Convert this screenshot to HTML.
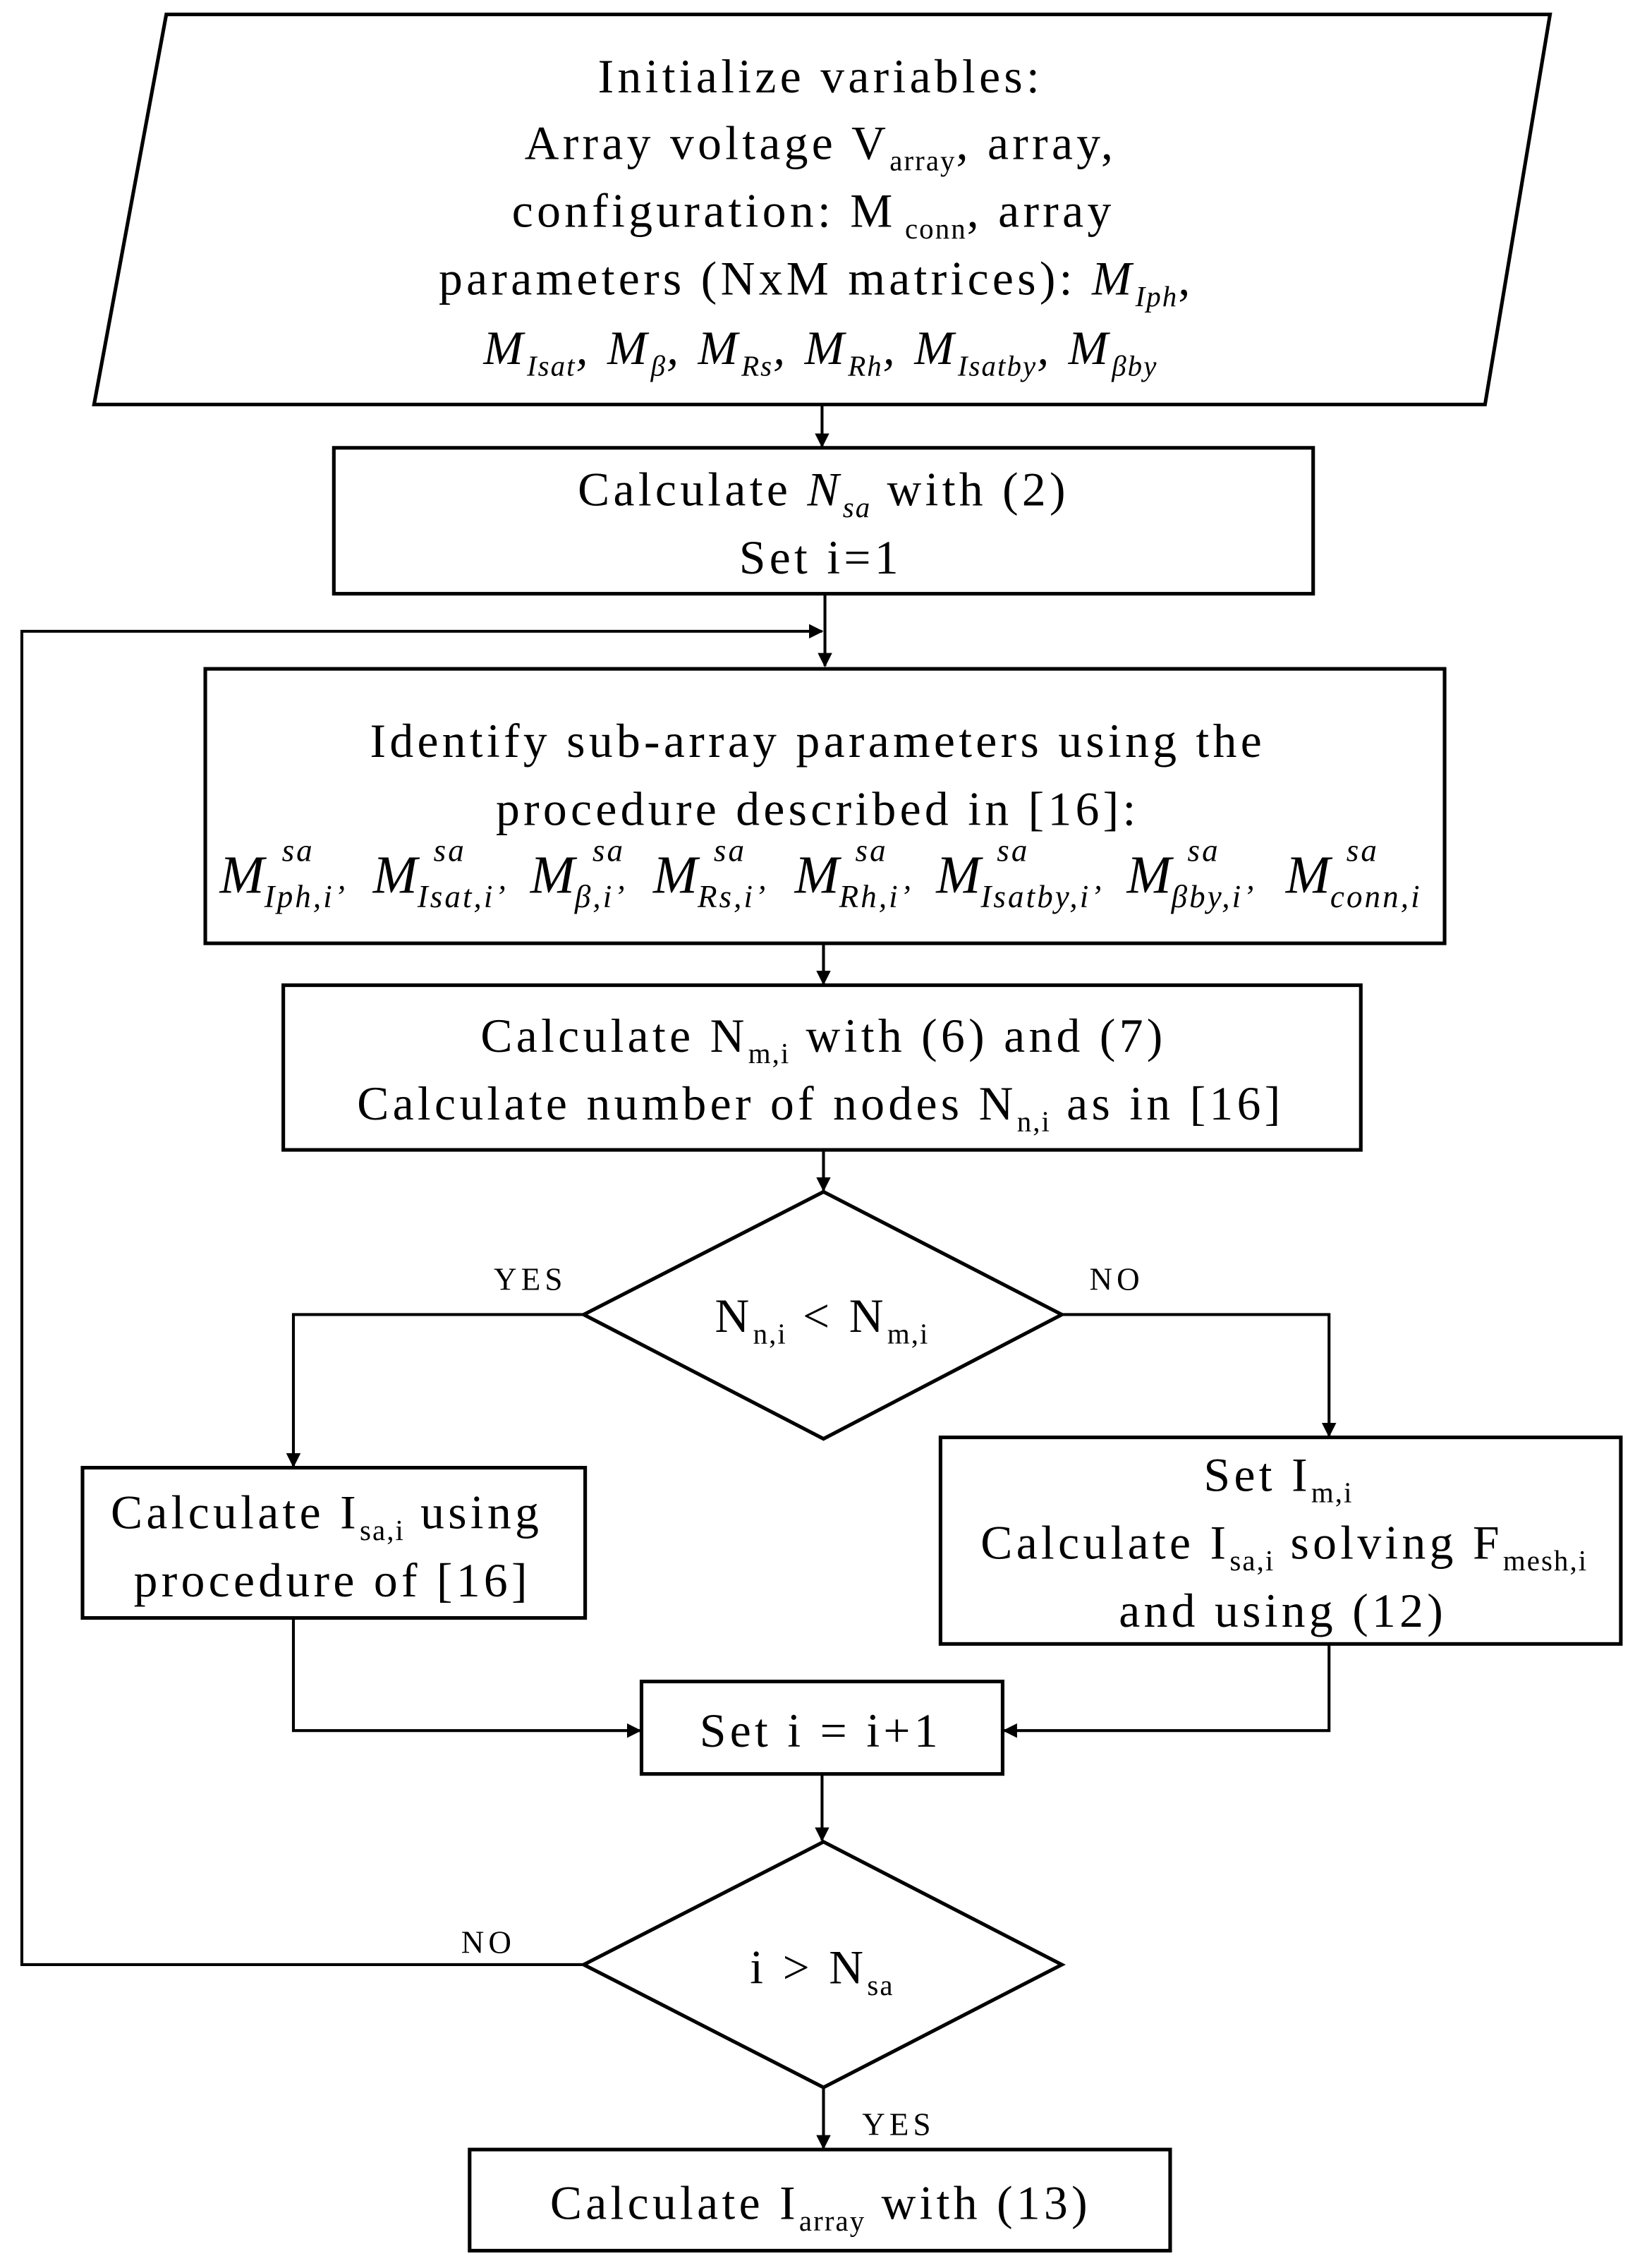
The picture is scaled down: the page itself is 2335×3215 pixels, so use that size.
<!DOCTYPE html>
<html><head><meta charset="utf-8">
<style>
html,body{margin:0;padding:0;background:#fff;}
svg{display:block;}
text{font-family:"Liberation Serif",serif;fill:#000;}
.t{font-size:33px;letter-spacing:2.6px;}
.s{font-size:20px;letter-spacing:1px;}
.m{font-size:37px;}
.ms{font-size:22px;letter-spacing:1.5px;}
.i{font-style:italic;}
</style></head><body>
<svg width="2335" height="3215" viewBox="0 0 1140 1570" xmlns="http://www.w3.org/2000/svg">
<defs><marker id="a" markerWidth="10" markerHeight="10" refX="9" refY="5" orient="auto" markerUnits="userSpaceOnUse"><path d="M0,0 L10,5 L0,10 z" fill="#000"/></marker></defs>
<g fill="none" stroke="#000" stroke-width="2.5">
<polygon points="115,10 1073,10 1028,280 65,280"/>
<rect x="231" y="310" width="678" height="101"/>
<rect x="142" y="463" width="858" height="190"/>
<rect x="196" y="682" width="746" height="114"/>
<polygon points="570,825 735,910 570,996 404,910"/>
<rect x="57" y="1016" width="348" height="104"/>
<rect x="651" y="995" width="471" height="143"/>
<rect x="444" y="1164" width="250" height="64"/>
<polygon points="570,1275 735,1360 570,1445 404,1360"/>
<rect x="325" y="1488" width="485" height="70"/>
<g marker-end="url(#a)" stroke-width="2">
<line x1="569" y1="280" x2="569" y2="309"/>
<line x1="571" y1="411" x2="571" y2="461"/>
<polyline points="404,1360 15,1360 15,437 569,437"/>
<line x1="570" y1="653" x2="570" y2="681"/>
<line x1="570" y1="796" x2="570" y2="824"/>
<polyline points="404,910 203,910 203,1015"/>
<polyline points="735,910 920,910 920,994"/>
<polyline points="203,1120 203,1198 443,1198"/>
<polyline points="920,1138 920,1198 695,1198"/>
<line x1="569" y1="1228" x2="569" y2="1274"/>
<line x1="570" y1="1445" x2="570" y2="1487"/>
</g></g>

<text class="t" x="568" y="64" text-anchor="middle">Initialize variables:</text>
<text class="t" x="568" y="110" text-anchor="middle">Array voltage V<tspan class="s" dy="8">array</tspan><tspan dy="-8">, array,</tspan></text>
<text class="t" x="563" y="157" text-anchor="middle">configuration: M<tspan class="s" dy="8"> conn</tspan><tspan dy="-8">, array</tspan></text>
<text class="t" x="565" y="204" text-anchor="middle">parameters (NxM matrices): <tspan class="i">M</tspan><tspan class="s i" dy="8">Iph</tspan><tspan dy="-8">,</tspan></text>
<text class="t" x="568" y="252" text-anchor="middle"><tspan class="i">M</tspan><tspan class="s i" dy="8">Isat</tspan><tspan class="i" dy="-8">, M</tspan><tspan class="s i" dy="8">β</tspan><tspan class="i" dy="-8">, M</tspan><tspan class="s i" dy="8">Rs</tspan><tspan class="i" dy="-8">, M</tspan><tspan class="s i" dy="8">Rh</tspan><tspan class="i" dy="-8">, M</tspan><tspan class="s i" dy="8">Isatby</tspan><tspan class="i" dy="-8">, M</tspan><tspan class="s i" dy="8">βby</tspan></text>

<text class="t" x="570" y="350" text-anchor="middle">Calculate <tspan class="i">N</tspan><tspan class="s i" dy="8">sa</tspan><tspan dy="-8"> with (2)</tspan></text>
<text class="t" x="568" y="397" text-anchor="middle">Set i=1</text>

<text class="t" x="566" y="524" text-anchor="middle">Identify sub-array parameters using the</text>
<text class="t" x="566" y="571" text-anchor="middle">procedure described in [16]:</text>
<g class="i">
<text class="m" x="152" y="618">M<tspan class="ms" dy="10">Iph,i’</tspan></text>
<text class="m" x="258" y="618">M<tspan class="ms" dy="10">Isat,i’</tspan></text>
<text class="m" x="367" y="618">M<tspan class="ms" dy="10">β,i’</tspan></text>
<text class="m" x="452" y="618">M<tspan class="ms" dy="10">Rs,i’</tspan></text>
<text class="m" x="550" y="618">M<tspan class="ms" dy="10">Rh,i’</tspan></text>
<text class="m" x="648" y="618">M<tspan class="ms" dy="10">Isatby,i’</tspan></text>
<text class="m" x="780" y="618">M<tspan class="ms" dy="10">βby,i’</tspan></text>
<text class="m" x="890" y="618">M<tspan class="ms" dy="10">conn,i</tspan></text>
<text class="ms" x="195" y="596">sa</text>
<text class="ms" x="300" y="596">sa</text>
<text class="ms" x="410" y="596">sa</text>
<text class="ms" x="494" y="596">sa</text>
<text class="ms" x="592" y="596">sa</text>
<text class="ms" x="690" y="596">sa</text>
<text class="ms" x="822" y="596">sa</text>
<text class="ms" x="932" y="596">sa</text>
</g>

<text class="t" x="570" y="728" text-anchor="middle">Calculate N<tspan class="s" dy="8">m,i</tspan><tspan dy="-8"> with (6) and (7)</tspan></text>
<text class="t" x="568" y="775" text-anchor="middle">Calculate number of nodes N<tspan class="s" dy="8">n,i</tspan><tspan dy="-8"> as in [16]</tspan></text>

<text class="t" x="569" y="922" text-anchor="middle">N<tspan class="s" dy="8">n,i</tspan><tspan dy="-8"> &lt; N</tspan><tspan class="s" dy="8">m,i</tspan></text>
<text style="font-size:22px;letter-spacing:3px" x="367" y="893" text-anchor="middle">YES</text>
<text style="font-size:22px;letter-spacing:3px" x="773" y="893" text-anchor="middle">NO</text>

<text class="t" x="226" y="1058" text-anchor="middle">Calculate I<tspan class="s" dy="8">sa,i</tspan><tspan dy="-8"> using</tspan></text>
<text class="t" x="230" y="1105" text-anchor="middle">procedure of [16]</text>

<text class="t" x="885" y="1032" text-anchor="middle">Set I<tspan class="s" dy="8">m,i</tspan></text>
<text class="t" x="889" y="1079" text-anchor="middle">Calculate I<tspan class="s" dy="8">sa,i</tspan><tspan dy="-8"> solving F</tspan><tspan class="s" dy="8">mesh,i</tspan></text>
<text class="t" x="888" y="1126" text-anchor="middle">and using (12)</text>

<text class="t" x="568" y="1209" text-anchor="middle">Set i = i+1</text>

<text class="t" x="569" y="1373" text-anchor="middle">i &gt; N<tspan class="s" dy="8">sa</tspan></text>
<text style="font-size:22px;letter-spacing:3px" x="338" y="1352" text-anchor="middle">NO</text>
<text style="font-size:22px;letter-spacing:3px" x="622" y="1478" text-anchor="middle">YES</text>

<text class="t" x="568" y="1536" text-anchor="middle">Calculate I<tspan class="s" dy="8">array</tspan><tspan dy="-8"> with (13)</tspan></text>
</svg>
</body></html>
